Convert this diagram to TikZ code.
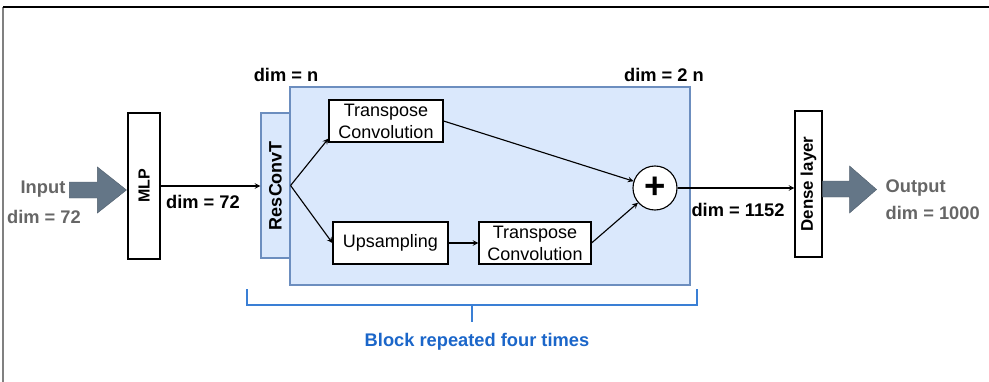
\documentclass[tikz,border=0pt]{standalone}
\usepackage{fontspec}
\setmainfont{Liberation Sans}
\usepackage{graphicx}
\usetikzlibrary{arrows}

\definecolor{blockfill}{HTML}{DAE8FC}
\definecolor{blockline}{HTML}{6C8EBF}
\definecolor{fatarrow}{HTML}{647687}
\definecolor{labelgray}{HTML}{666666}
\definecolor{repblue}{HTML}{3A7FD5}
\definecolor{reptext}{HTML}{1B66C9}

\begin{document}
\begin{tikzpicture}[
        x=0.025cm, y=-0.025cm,
        font=\fontsize{12.8}{15.6}\selectfont,
        box/.style={draw, rectangle, fill=white, thick, inner sep=0pt, align=center, minimum height=1.05cm},
        layer/.style={box, minimum width=0.8cm, minimum height=3.65cm, font=\fontsize{12}{14}\selectfont\bfseries},
        bluebox/.style={draw=blockline, fill=blockfill, thick, inner sep=0pt},
        dimlabel/.style={inner sep=1pt, font=\fontsize{13}{15}\selectfont\bfseries},
        iolabel/.style={dimlabel, text=labelgray},
        fat/.style={fill=fatarrow, draw=fatarrow!80!black, line width=0.3pt},
        bracket/.style={draw=repblue, line width=1.4pt},
        arrow/.style={thick, -stealth}
    ]
        \useasboundingbox (0,0) rectangle (989,382);

        % Frame
        \draw[gray, thick] (3,382) -- (3,7);
        \draw[thick] (3,7) -- (989,7);

        % Repeated block
        \node[bluebox, minimum width=10cm, minimum height=4.95cm] (blk) at (490,186) {};
        \node[bluebox, minimum width=0.725cm, minimum height=3.625cm, font=\fontsize{12.8}{15}\selectfont\bfseries] (res) at (275.5,185.5) {\rotatebox{90}{ResConvT}};

        \node[box, minimum width=2.85cm] (tc1) at (386,121) {Transpose\\Convolution};
        \node[box, minimum width=2.875cm] (ups) at (390.5,243) {Upsampling};
        \node[box, minimum width=2.8cm] (tc2) at (535,243) {Transpose\\Convolution};
        \node[draw, circle, thick, fill=white, minimum size=1.1cm, inner sep=0pt, font=\fontsize{26}{26}\selectfont\bfseries] (plus) at (655,188) {+};

        % Layers
        \node[layer, font=\fontsize{11.4}{13}\selectfont\bfseries] (mlp) at (144,186) {\rotatebox{90}{MLP}};
        \node[layer, minimum width=0.675cm] (dense) at (808.5,184) {\rotatebox{90}{Dense layer}};

        % Labels
        \node[iolabel] (inname) at (43,189) {Input};
        \node[iolabel] (indim) at (44,217) {dim = 72};
        \node[iolabel, anchor=west] (outname) at (884,188) {Output};
        \node[iolabel, anchor=west] (outdim) at (884,213) {dim = 1000};

        \node[dimlabel] (dimn) at (286,75) {dim = n};
        \node[dimlabel] (dimtwon) at (664,75) {dim = 2 n};
        \node[dimlabel] (dimmlp) at (203,202) {dim = 72};
        \node[dimlabel] (dimout) at (738,210) {dim = 1152};

        % Fat arrows
        \fill[fat] (mlp.west) ++(-1,4) -- ++(-29,-23) -- ++(0,15) -- ++(-28,0) -- ++(0,16) -- ++(28,0) -- ++(0,15) -- cycle;
        \fill[fat] (dense.east) ++(0,-3) -- ++(27,0) -- ++(0,-15) -- ++(27,23.5) -- ++(-27,23.5) -- ++(0,-16) -- ++(-27,0) -- cycle;

        % Paths
        \draw[arrow] (mlp.east) -- (mlp.east -| res.west);
        \draw[arrow] (res.east) -- ([yshift=0.1cm]tc1.south west);
        \draw[arrow] (res.east) -- (ups.west);
        \draw[arrow] (ups.east) -- (tc2.west);
        \draw[arrow] (tc1.east) -- (plus);
        \draw[arrow] (tc2.east) -- (plus);
        \draw[arrow] (plus.east) -- (plus.east -| dense.west);

        % Bracket
        \coordinate (brtick) at (472,305);
        \draw[bracket] (247,289) -- (247,305) -- (697,305) -- (697,289);
        \node[dimlabel, text=reptext] (rep) at (477,342) {Block repeated four times};
        \draw[bracket] (brtick) -- ++(0,17);

    \end{tikzpicture}
\end{document}
